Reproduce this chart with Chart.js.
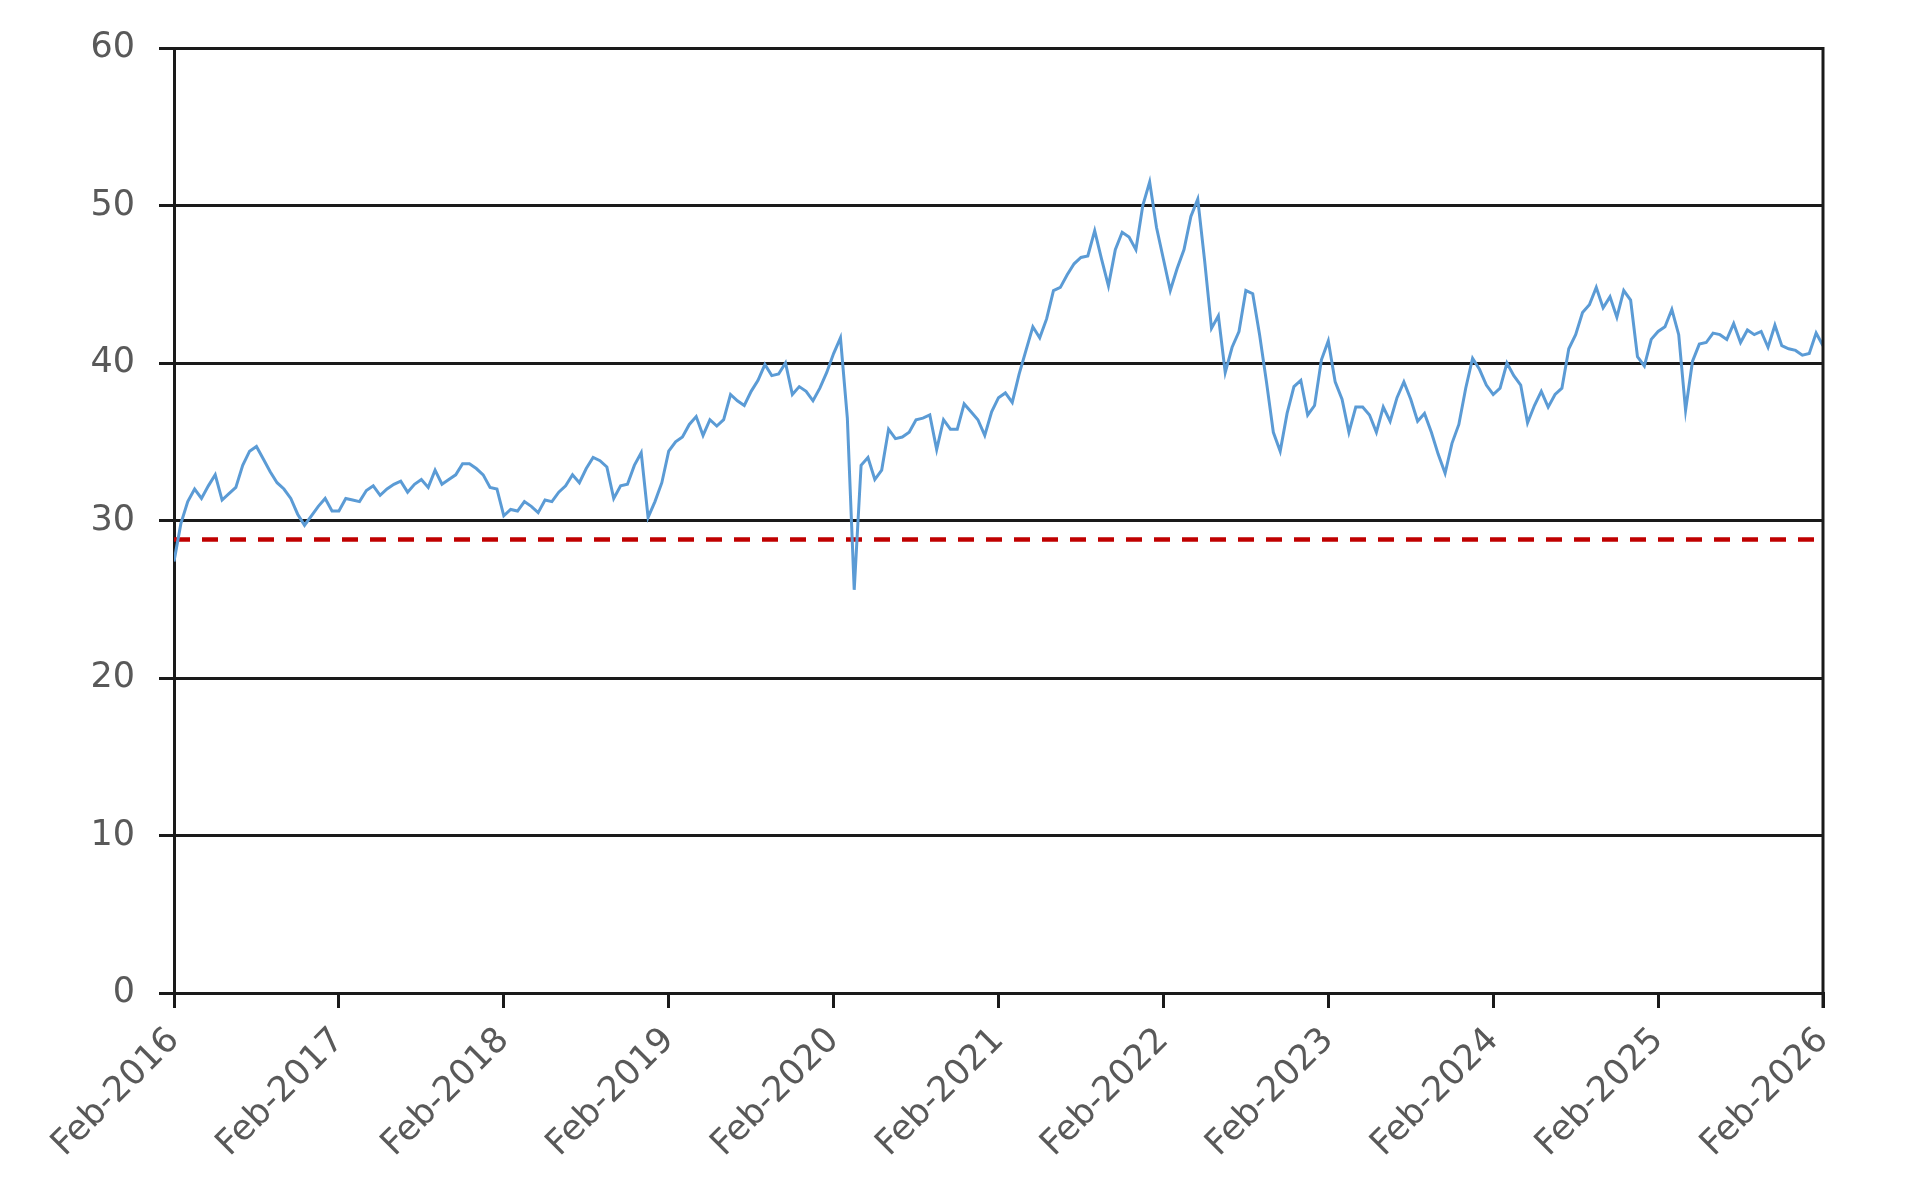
<!DOCTYPE html>
<html>
<head>
<meta charset="utf-8">
<script src="https://cdn.jsdelivr.net/npm/chart.js@4"></script>
<style>
  html, body { margin: 0; padding: 0; background: #fff; }
  canvas { display: block; }
</style>
</head>
<body>
<canvas id="chart" width="1917" height="1197"></canvas>
<script>
// x values are months since Feb-2016, two readings per month
const tickLabels = ['Feb-2016', 'Feb-2017', 'Feb-2018', 'Feb-2019', 'Feb-2020', 'Feb-2021',
                    'Feb-2022', 'Feb-2023', 'Feb-2024', 'Feb-2025', 'Feb-2026'];

const y2016 = [27.4, 29.8, 31.2, 32.0, 31.4, 32.2, 32.9, 31.3, 31.7, 32.1, 33.5, 34.4,
               34.7, 33.9, 33.1, 32.4, 32.0, 31.4, 30.4, 29.7, 30.3, 30.9, 31.4, 30.6];
const y2017 = [30.6, 31.4, 31.3, 31.2, 31.9, 32.2, 31.6, 32.0, 32.3, 32.5, 31.8, 32.3,
               32.6, 32.1, 33.2, 32.3, 32.6, 32.9, 33.6, 33.6, 33.3, 32.9, 32.1, 32.0];
const y2018 = [30.3, 30.7, 30.6, 31.2, 30.9, 30.5, 31.3, 31.2, 31.8, 32.2, 32.9, 32.4,
               33.3, 34.0, 33.8, 33.4, 31.4, 32.2, 32.3, 33.5, 34.3, 30.2, 31.2, 32.4];
const y2019 = [34.4, 35.0, 35.3, 36.1, 36.6, 35.4, 36.4, 36.0, 36.4, 38.0, 37.6, 37.3,
               38.2, 38.9, 39.9, 39.2, 39.3, 40.0, 38.0, 38.5, 38.2, 37.6, 38.4, 39.4];
const y2020 = [40.6, 41.6, 36.5, 25.6, 33.5, 34.0, 32.6, 33.2, 35.8, 35.2, 35.3, 35.6,
               36.4, 36.5, 36.7, 34.5, 36.4, 35.8, 35.8, 37.4, 36.9, 36.4, 35.4, 36.9];
const y2021 = [37.8, 38.1, 37.5, 39.3, 40.8, 42.3, 41.6, 42.8, 44.6, 44.8, 45.6, 46.3,
               46.7, 46.8, 48.4, 46.6, 44.9, 47.2, 48.3, 48.0, 47.2, 50.0, 51.5, 48.6];
const y2022 = [46.6, 44.6, 46.0, 47.2, 49.3, 50.4, 46.5, 42.2, 43.0, 39.4, 41.0, 42.0,
               44.6, 44.4, 41.8, 38.8, 35.6, 34.4, 36.8, 38.5, 38.9, 36.7, 37.3, 40.2];
const y2023 = [41.4, 38.8, 37.7, 35.6, 37.2, 37.2, 36.7, 35.6, 37.2, 36.3, 37.8, 38.8,
               37.7, 36.3, 36.8, 35.6, 34.2, 33.0, 34.9, 36.1, 38.4, 40.3, 39.6, 38.6];
const y2024 = [38.0, 38.4, 40.0, 39.2, 38.6, 36.2, 37.3, 38.2, 37.2, 38.0, 38.4, 40.9,
               41.8, 43.2, 43.7, 44.8, 43.5, 44.2, 42.9, 44.6, 44.0, 40.4, 39.8, 41.5];
const y2025 = [42.0, 42.3, 43.4, 41.8, 37.0, 40.1, 41.2, 41.3, 41.9, 41.8, 41.5, 42.5,
               41.3, 42.1, 41.8, 42.0, 41.0, 42.4, 41.1, 40.9, 40.8, 40.5, 40.6, 41.9];
const y2026 = [41.1];

const seriesValues = [].concat(y2016, y2017, y2018, y2019, y2020, y2021,
                               y2022, y2023, y2024, y2025, y2026);
const refLevel = 28.8;
const refSpan = [0, 119.5];

const lineData = seriesValues.map((v, i) => ({ x: i * 0.5, y: v }));
const refData = refSpan.map(m => ({ x: m, y: refLevel }));

const font = { family: 'DejaVu Sans', size: 35 };

// right frame edge of the plot
const rightEdge = {
    id: 'rightEdge',
    afterDraw(chart) {
        const a = chart.chartArea, ctx = chart.ctx;
        ctx.save();
        ctx.strokeStyle = '#1a1a1a';
        ctx.lineWidth = 3;
        ctx.beginPath();
        ctx.moveTo(a.right, a.top - 1);
        ctx.lineTo(a.right, a.bottom + 15);
        ctx.stroke();
        ctx.restore();
    }
};

new Chart(document.getElementById('chart').getContext('2d'), {
    type: 'line',
    data: {
        datasets: [
            { data: lineData, borderColor: '#5B9BD5', borderWidth: 3, pointRadius: 0, tension: 0 },
            { data: refData, borderColor: '#C00000', borderWidth: 4.5, borderDash: [16, 12], pointRadius: 0 }
        ]
    },
    options: {
        responsive: false,
        animation: false,
        devicePixelRatio: 1,
        layout: { padding: { top: 48, right: 94, bottom: 0, left: 0 } },
        plugins: { legend: { display: false }, tooltip: { enabled: false } },
        scales: {
            x: {
                type: 'linear', min: 0, max: 120,
                afterFit: s => { s.height = 204; },
                afterBuildTicks: s => { s.ticks = tickLabels.map((t, i) => ({ value: i * 12 })); },
                ticks: {
                    autoSkip: false, maxRotation: 45, minRotation: 45, padding: 12,
                    color: '#595959', font: font,
                    callback: v => tickLabels[Math.round(v / 12)]
                },
                grid: { drawOnChartArea: false, color: '#1a1a1a', lineWidth: 3, tickLength: 15 },
                border: { color: '#1a1a1a', width: 3 }
            },
            y: {
                min: 0, max: 60,
                afterFit: s => { s.width = 174; },
                ticks: { stepSize: 10, padding: 24, color: '#595959', font: font },
                grid: { color: '#1a1a1a', lineWidth: 3, tickLength: 15 },
                border: { color: '#1a1a1a', width: 3 }
            }
        }
    },
    plugins: [rightEdge]
});
</script>
</body>
</html>
